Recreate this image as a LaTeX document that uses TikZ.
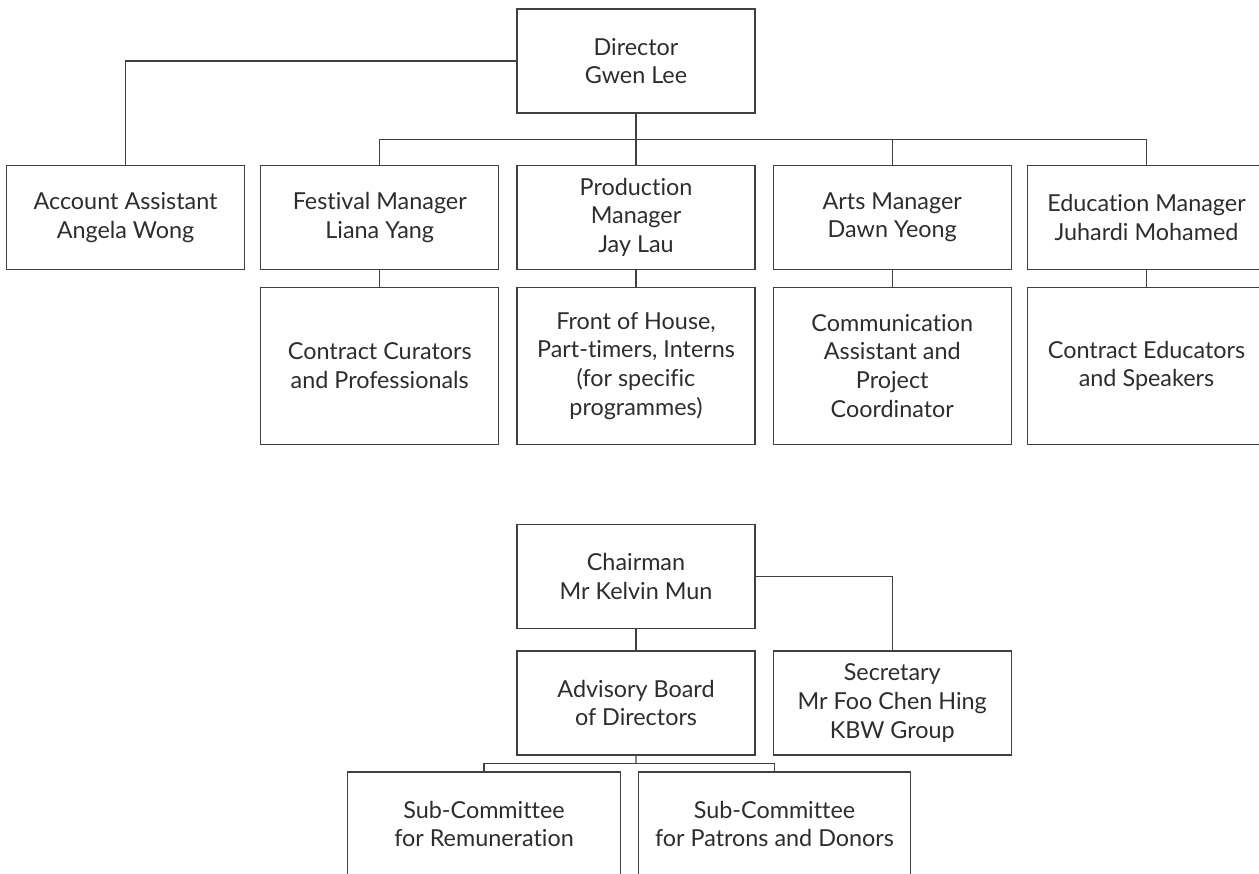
\documentclass[tikz,border=0pt]{standalone}
\usepackage{fontspec}
\setmainfont{Lato}[Ligatures={NoCommon}]
\usetikzlibrary{positioning, calc}

\begin{document}
\begin{tikzpicture}[
		box/.style={draw=linegray, line width=0.7pt, rectangle, align=center, text=textgray, minimum width=4.76cm, minimum height=2.08cm, font=\fontsize{13.3}{16.4}\selectfont},
		tallbox/.style={box, minimum height=3.14cm},
		subbox/.style={box, minimum width=5.45cm},
		link/.style={draw=linegray, line width=0.7pt}
	]
			\definecolor{linegray}{RGB}{64,64,64}
			\definecolor{textgray}{RGB}{45,45,45}
			\useasboundingbox (0,0) rectangle (25.18,-17.46);
			\clip (0,0) rectangle (25.18,-17.46);
			\node (dir) [box] at (12.72,-1.22) {Director\\Gwen Lee};
			\node (prod) [box, below=1.02cm of dir] {Production\\Manager\\Jay Lau};
			\node (fest) [box, left=0.34cm of prod] {Festival Manager\\Liana Yang};
			\node (acct) [box, left=0.3cm of fest] {Account Assistant\\Angela Wong};
			\node (arts) [box, right=0.34cm of prod] {Arts Manager\\Dawn Yeong};
			\node (edu) [box, right=0.3cm of arts] {Education Manager\\Juhardi Mohamed};
			\node (cur) [tallbox, below=0.34cm of fest] {Contract Curators\\and Professionals};
			\node (foh) [tallbox, below=0.34cm of prod] {Front of House,\\Part-timers, Interns\\(for specific\\programmes)};
			\node (comm) [tallbox, below=0.34cm of arts] {Communication\\Assistant and\\Project\\Coordinator};
			\node (ceduc) [tallbox, below=0.34cm of edu] {Contract Educators\\and Speakers};
			\node (chair) [box, below=1.58cm of foh] {Chairman\\Mr Kelvin Mun};
			\node (adv) [box, below=0.42cm of chair] {Advisory Board\\of Directors};
			\node (sec) [box, right=0.34cm of adv] {Secretary\\Mr Foo Chen Hing\\KBW Group};
			\node (subrem) [subbox] at (9.68,-16.48) {Sub-Committee\\for Remuneration};
			\node (subpat) [subbox] at (15.49,-16.48) {Sub-Committee\\for Patrons and Donors};
			\coordinate (bus) at ($(dir.south)!.5!(prod.north)$);
			\coordinate (bustwo) at ($(adv.south)!.5!(adv.south |- subrem.north)$);
			\draw [link] (dir.west) -| (acct.north);
			\draw [link] (dir.south) -- (prod.north);
			\draw [link] (fest.north) |- (bus) -| (edu.north);
			\draw [link] (arts.north) -- (arts.north |- bus);
			\draw [link] (fest) -- (cur);
			\draw [link] (prod) -- (foh);
			\draw [link] (arts) -- (comm);
			\draw [link] (edu) -- (ceduc);
			\draw [link] (chair.east) -| (sec.north);
			\draw [link] (chair) -- (adv);
			\draw [link] (adv.south) -- (bustwo);
			\draw [link] (subrem.north) |- (bustwo) -| (subpat.north);
		\end{tikzpicture}
\end{document}
